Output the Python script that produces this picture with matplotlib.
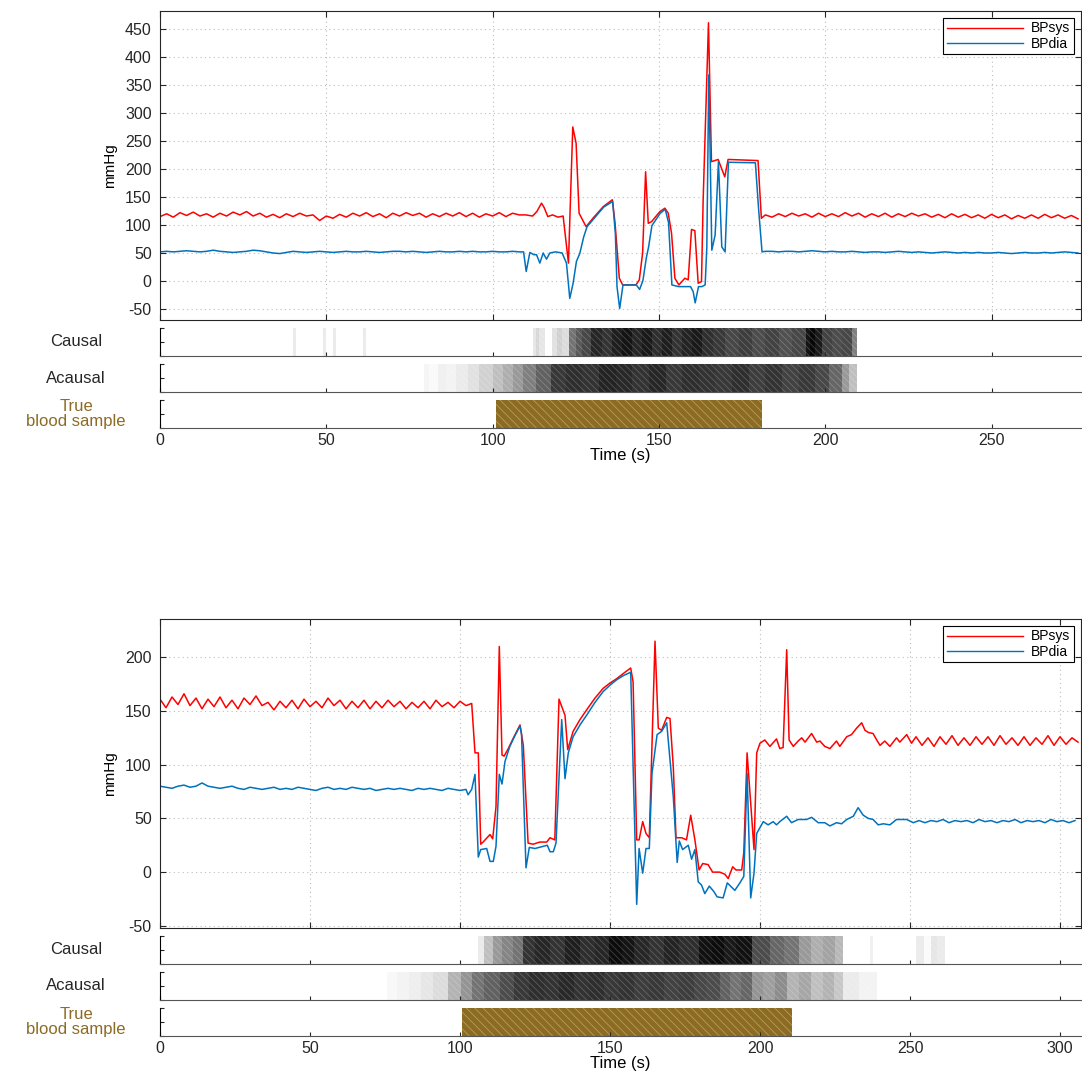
import numpy as np
import matplotlib
matplotlib.use("Agg")
import matplotlib.pyplot as plt
from matplotlib.lines import Line2D

plt.rcParams['font.family'] = ['Liberation Sans', 'DejaVu Sans']
plt.rcParams['axes.unicode_minus'] = False
plt.rcParams['hatch.linewidth'] = 0.6

# ---------------- recording 1 (top) ----------------
top_pre_t = np.arange(0, 110, 2)
top_pre_sys = [115, 120, 114, 122, 117, 123, 116, 120, 114, 121,
               116, 123, 118, 124, 116, 121, 114, 119, 113, 120,
               115, 121, 116, 118, 108, 116, 112, 119, 114, 121,
               116, 122, 115, 120, 113, 121, 116, 122, 117, 121,
               114, 120, 115, 121, 116, 122, 115, 121, 114, 120,
               116, 122, 115, 121, 118]
top_pre_dia = [52, 53, 52, 53, 54, 53, 52, 53, 55, 53,
               52, 51, 52, 53, 55, 54, 52, 50, 49, 51,
               53, 52, 51, 52, 53, 52, 51, 52, 53, 52,
               52, 53, 52, 51, 52, 53, 53, 52, 53, 52,
               51, 52, 53, 52, 52, 53, 52, 53, 52, 52,
               53, 52, 52, 53, 52]

top_ev_t_sys = [110, 112, 113.3, 114.7, 115.5, 116.6, 118, 119.7, 121.2, 122.1,
                122.8, 124.1, 125.1, 126, 128.1, 130.3, 133.3, 136, 136.8, 138.1,
                139.1, 143.1, 144.1, 145.1, 146, 146.8, 147.8, 150.3, 151.8, 152.8,
                153.8, 154.8, 156, 157.8, 158.8, 159.8, 160.8, 161.8, 162.8, 163.3,
                164.9, 165.8, 167.8, 169.8, 170.8, 179.8, 180.8]
top_ev_sys = [118, 116, 124, 139, 131, 115, 118, 114, 116, 68,
              32, 275, 246, 121, 97, 113, 133, 145, 104, 5,
              -7, -7, 2, 50, 195, 103, 106, 124, 130, 121,
              85, 5, -7, 5, 2, 92, 90, -4, -1, 145,
              461, 213, 217, 186, 217, 215, 112]

top_ev_t_dia = [109.3, 110.1, 111.2, 112.4, 113.2, 114.2, 115.2, 116.2, 117.2, 118.9,
                120.9, 122.2, 123.2, 124.2, 125.2, 126.2, 127.4, 128.4, 130.4, 133.4,
                136.1, 136.9, 137.4, 138.2, 139.2, 143.2, 144.2, 145.2, 146.2, 146.9,
                147.9, 150.4, 151.9, 152.9, 153.9, 155.9, 159.5, 160.3, 160.9, 161.9,
                162.9, 163.9, 164.4, 165.0, 165.9, 166.9, 167.9, 168.9, 169.9, 170.9,
                179.0, 180.0, 181.0]
top_ev_dia = [52, 17, 51, 47, 47, 32, 50, 39, 50, 52,
              50, 32, -31, -4, 35, 49, 79, 97, 111, 132,
              142, 85, -10, -49, -7, -7, -15, 1, 41, 61,
              99, 121, 128, 104, -7, -10, -10, -19, -39, -10,
              -10, -7, 60, 368, 55, 82, 213, 61, 52, 212,
              211, 126, 52]

top_post_t = np.arange(182, 278, 2)
top_post_sys = [118, 114, 120, 115, 121, 116, 120, 114, 121, 115,
                120, 115, 122, 116, 121, 114, 120, 115, 121, 114,
                120, 115, 121, 116, 120, 114, 119, 113, 120, 114,
                119, 113, 118, 112, 119, 113, 118, 111, 117, 112,
                118, 112, 119, 113, 118, 112, 117, 111]
top_post_dia = [53, 53, 52, 53, 53, 52, 53, 54, 53, 52,
                53, 52, 52, 53, 52, 51, 52, 52, 51, 52,
                53, 52, 51, 52, 51, 50, 51, 52, 51, 50,
                51, 50, 51, 50, 50, 51, 50, 49, 50, 51,
                50, 50, 51, 50, 51, 52, 51, 50]

top_causal_edges = [0, 40, 41, 49, 50, 52, 53, 61, 62, 112,
                    113, 114, 115.8, 117.9, 119.5, 121, 123, 125, 127, 129.7,
                    133, 136, 139, 142, 145, 148, 151, 154, 157, 160,
                    163, 166.2, 170, 174, 178, 182, 186, 190, 194.1, 195.5,
                    197, 199, 202, 205, 208, 209.7, 277]
top_causal_lvl = [0, .08, 0, .08, 0, .08, 0, .08, 0, .1,
                  .16, .1, 0, .12, .18, .14, .55, .65, .72, .85,
                  .8, .88, .92, .85, .9, .82, .88, .8, .86, .9,
                  .82, .78, .72, .76, .7, .74, .68, .72, .92, .97,
                  .9, .74, .7, .72, .5, 0]
top_acausal_edges = [0, 79.5, 81, 83.5, 86, 89, 92.5, 96, 100, 103,
                     106, 109, 113, 117.5, 122, 127, 132, 137, 142, 147,
                     152, 157, 162, 167, 172, 177, 182, 187, 192, 197,
                     201, 204.9, 207, 209.7, 277]
top_acausal_lvl = [0, .04, .02, .06, .05, .08, .12, .18, .25, .32,
                   .4, .5, .62, .78, .82, .8, .86, .84, .8, .85,
                   .78, .82, .8, .78, .82, .76, .8, .74, .78, .72,
                   .6, .4, .25, 0]
top_sample = (101, 181)

# ---------------- recording 2 (bottom) ----------------
bot_pre_t = np.arange(0, 103, 2)
bot_pre_sys = [161, 153, 163, 156, 166, 155, 162, 152, 161, 154,
               163, 153, 160, 152, 162, 156, 164, 155, 158, 151,
               159, 153, 160, 152, 161, 154, 159, 153, 162, 155,
               160, 152, 159, 153, 160, 152, 159, 153, 160, 154,
               159, 152, 158, 153, 159, 152, 160, 154, 158, 153,
               159, 155]
bot_pre_dia = [80, 79, 78, 80, 81, 79, 80, 83, 80, 79,
               78, 79, 80, 78, 77, 79, 78, 77, 78, 79,
               77, 78, 77, 79, 78, 77, 76, 78, 79, 77,
               78, 77, 79, 78, 77, 78, 76, 77, 78, 77,
               78, 77, 76, 78, 77, 78, 77, 76, 78, 77,
               76, 77]

bot_ev_t_sys = [103.9, 105, 106.1, 106.9, 107.7, 110, 110.9, 112, 113.1, 114,
                114.7, 116.1, 118, 120, 121.1, 122.7, 124.4, 126.6, 128.9, 130,
                131.6, 133, 135, 135.9, 137.7, 140, 142.2, 145, 147.7, 150,
                152.2, 154.5, 156.9, 157.7, 158.9, 159.7, 160.9, 162, 163.1, 165,
                166.1, 167.2, 168.9, 170, 171.1, 172, 173.9, 175.5, 176.9, 178.3,
                179.7, 180.9, 182.7, 184.2, 186.6, 188.3, 189.4, 190.9, 192, 193.9,
                194.6, 195.7, 198, 198.9, 200, 201.6, 203.3, 205.5, 206.6, 207.7,
                208.9, 209.7, 211.1, 212.7, 213.9, 215, 217.2, 218.9, 220, 221.6,
                223.3, 225.5, 226.6, 228.9, 230.5, 232.2, 233.9, 235, 236.1, 237.7,
                238.9, 240, 241.6, 243.3, 245.5, 246.6, 248.9, 250.5]
bot_ev_sys = [157, 111, 111, 26, 28, 35, 31, 61, 210, 109,
              108, 115, 126, 137, 118, 27, 26, 28, 28, 32,
              30, 161, 146, 114, 131, 142, 151, 162, 171, 176,
              180, 185, 190, 177, 30, 30, 47, 36, 32, 215,
              134, 132, 144, 143, 98, 32, 32, 30, 53, 30,
              2, 8, 7, 0, 0, -2, -6, 5, 2, 2,
              18, 111, 21, 111, 120, 123, 117, 124, 115, 116,
              207, 123, 117, 122, 125, 121, 129, 121, 122, 117,
              115, 122, 117, 126, 128, 134, 139, 132, 130, 129,
              123, 118, 122, 117, 125, 121, 128, 120]

bot_ev_t_dia = [102.7, 103.9, 105, 106.1, 106.9, 108.9, 110, 111.1, 112, 113.1,
                114, 115, 116.6, 118.3, 120, 120.5, 122, 123.1, 125, 126.4,
                129.1, 130, 131.1, 132, 133.9, 135, 136.1, 137.7, 140, 142.2,
                145, 147.7, 150, 152.2, 154.5, 156.9, 158.9, 159.7, 160.9, 162,
                163.1, 164, 165.7, 167.2, 168.9, 171.1, 172.4, 173.1, 174.2, 176.1,
                177.2, 178.3, 179.4, 180.5, 181.6, 183.1, 184.6, 185.7, 187.7, 189.1,
                191.6, 193.3, 194.6, 195.7, 196.9, 198, 198.9, 201.1, 202.7, 204.4,
                205.5, 206.6, 208.9, 210.5, 212.7, 215.5, 217.2, 219.4, 221.6, 223.3,
                225.5, 227.2, 228.9, 231.1, 232.7, 234.4, 236.1, 237.7, 239.4, 241.1,
                243.3, 245.5, 248.9, 251.1]
bot_ev_dia = [72, 77, 91, 14, 21, 22, 10, 10, 24, 91,
              82, 103, 117, 127, 136, 129, 4, 23, 22, 23,
              25, 19, 19, 27, 142, 87, 111, 126, 137, 146,
              158, 168, 174, 179, 183, 186, -30, 22, -1, 22,
              22, 92, 128, 131, 139, 70, 9, 29, 21, 25,
              12, 21, -9, -12, -20, -13, -18, -23, -24, -10,
              -17, -10, -4, 92, -24, -1, 36, 47, 44, 47,
              44, 47, 52, 46, 49, 49, 51, 46, 46, 43,
              46, 45, 49, 52, 60, 53, 50, 49, 44, 45,
              44, 49, 49, 46]

bot_post_t_sys = np.arange(252, 308, 2)
bot_post_sys = [126, 118, 125, 117, 126, 119, 127, 118, 125, 118,
                126, 119, 126, 118, 127, 119, 125, 118, 126, 118,
                125, 119, 127, 118, 126, 119, 125, 121]
bot_post_t_dia = np.arange(253, 307, 2)
bot_post_dia = [48, 46, 48, 47, 49, 46, 48, 47, 48, 46,
                49, 47, 48, 46, 48, 47, 49, 46, 48, 47,
                48, 46, 49, 47, 48, 46, 48]

bot_causal_edges = [0, 106, 108, 111, 114, 117.5, 121, 125, 130, 135,
                    140, 145, 149.8, 154, 158.1, 163, 168, 173, 179.5, 184,
                    188, 192, 197.4, 203.3, 208, 212.9, 217, 221, 225, 227.7,
                    236.5, 237.8, 252, 254.5, 256.9, 259, 261.7, 307]
bot_causal_lvl = [0, .08, .25, .4, .48, .55, .8, .85, .8, .88,
                  .82, .85, .95, .92, .85, .8, .86, .82, .93, .95,
                  .9, .93, .7, .6, .55, .4, .32, .36, .28, 0,
                  .06, 0, .08, .02, .1, .08, 0]
bot_acausal_edges = [0, 75.8, 79, 83, 87, 91, 96, 100.2, 104, 108,
                     113.3, 118, 123, 128, 133, 138, 143, 148, 153, 158,
                     163, 168, 173, 178, 182, 186.7, 190, 193.5, 197.4, 201,
                     205, 209, 213, 217, 221, 224.5, 227.7, 233, 239, 307]
bot_acausal_lvl = [0, .03, .05, .07, .1, .14, .3, .42, .55, .62,
                   .7, .78, .82, .8, .84, .8, .82, .78, .8, .76,
                   .78, .74, .76, .72, .7, .62, .55, .6, .42, .38,
                   .45, .3, .35, .25, .3, .22, .08, .05, 0]
bot_sample = (100.8, 210.8)

RED = '#ff0000'
BLUE = '#0072bd'
BROWN = '#8c6b23'
W, H = 1082, 1074


def box(l, t, r, b):
    return [l / W, 1 - b / H, (r - l) / W, (b - t) / H]


def draw_block(top, xmax, ylim, yticks, sys_parts, dia_parts, strips, sample, xticks):
    ax = fig.add_axes(box(160, top, 1081, top + 309))
    ts = np.concatenate([p[0] for p in sys_parts])
    vs = np.concatenate([p[1] for p in sys_parts])
    td = np.concatenate([p[0] for p in dia_parts])
    vd = np.concatenate([p[1] for p in dia_parts])
    ax.plot(ts, vs, color=RED, lw=1.1)
    ax.plot(td, vd, color=BLUE, lw=1.1)
    ax.set_xlim(0, xmax)
    ax.set_ylim(*ylim)
    ax.set_yticks(yticks)
    ax.set_xticks(xticks)
    ax.set_xticklabels([])
    ax.tick_params(direction='in', top=True, right=True, labelsize=11.5,
                   length=4, pad=6, colors='#262626')
    ax.grid(True, linestyle=(0, (1, 3)), color='#bdbdbd', lw=0.8)
    for s in ax.spines.values():
        s.set_color('#262626')
    ax.set_ylabel('mmHg', fontsize=11, labelpad=6)
    handles = [Line2D([], [], color=RED, lw=1), Line2D([], [], color=BLUE, lw=1)]
    leg = ax.legend(handles, ['BPsys', 'BPdia'], loc='upper right', fontsize=10,
                    handlelength=5.5, fancybox=False, framealpha=1,
                    borderaxespad=0.5, labelspacing=0.1, borderpad=0.25,
                    handletextpad=0.6)
    leg.get_frame().set_edgecolor('black')
    leg.get_frame().set_linewidth(0.8)

    names = ['Causal', 'Acausal', 'True\nblood sample']
    tops = [top + 317, top + 353, top + 389]
    for i, (name, t0) in enumerate(zip(names, tops)):
        sa = fig.add_axes(box(160, t0, 1081, t0 + 28))
        if i < 2:
            edges, lvl = strips[i]
            sa.pcolormesh(edges, [0, 1], np.array([lvl]), cmap='gray_r',
                          vmin=0, vmax=1, shading='flat')
            # fine streaky texture seen in the original raster strips
            sa.axvspan(edges[1], edges[-2], facecolor='none',
                       edgecolor=(1, 1, 1, 0.22), hatch='\\\\\\\\\\', lw=0)
            col = '#262626'
        else:
            sa.axvspan(sample[0], sample[1], facecolor=BROWN, edgecolor='#b89a5e',
                       hatch='\\\\\\\\', lw=0)
            col = BROWN
        sa.set_xlim(0, xmax)
        sa.set_ylim(0, 1)
        sa.set_xticks(xticks)
        sa.set_yticks([0, 0.5, 1])
        sa.set_yticklabels([])
        sa.spines['top'].set_visible(False)
        sa.spines['right'].set_visible(False)
        sa.spines['bottom'].set_color('#555555')
        sa.tick_params(direction='in', length=3, labelsize=11.5, colors='#262626')
        sa.text(-84 / 921, 0.5, name, transform=sa.transAxes, ha='center',
                va='center', fontsize=12, color=col, linespacing=1.0)
        if i < 2:
            sa.set_xticklabels([])
        else:
            sa.set_xlabel('Time (s)', fontsize=12, labelpad=0)


fig = plt.figure(figsize=(W / 100, H / 100), dpi=100)

draw_block(11, 276.9, (-69.6, 482), np.arange(-50, 451, 50),
           [(top_pre_t, top_pre_sys), (top_ev_t_sys, top_ev_sys), (top_post_t, top_post_sys)],
           [(top_pre_t, top_pre_dia), (top_ev_t_dia, top_ev_dia), (top_post_t, top_post_dia)],
           [(top_causal_edges, top_causal_lvl), (top_acausal_edges, top_acausal_lvl)],
           top_sample, np.arange(0, 251, 50))

draw_block(619, 307, (-52, 235.6), np.arange(-50, 201, 50),
           [(bot_pre_t, bot_pre_sys), (bot_ev_t_sys, bot_ev_sys), (bot_post_t_sys, bot_post_sys)],
           [(bot_pre_t, bot_pre_dia), (bot_ev_t_dia, bot_ev_dia), (bot_post_t_dia, bot_post_dia)],
           [(bot_causal_edges, bot_causal_lvl), (bot_acausal_edges, bot_acausal_lvl)],
           bot_sample, np.arange(0, 301, 50))

fig.savefig('out.png', dpi=100)
